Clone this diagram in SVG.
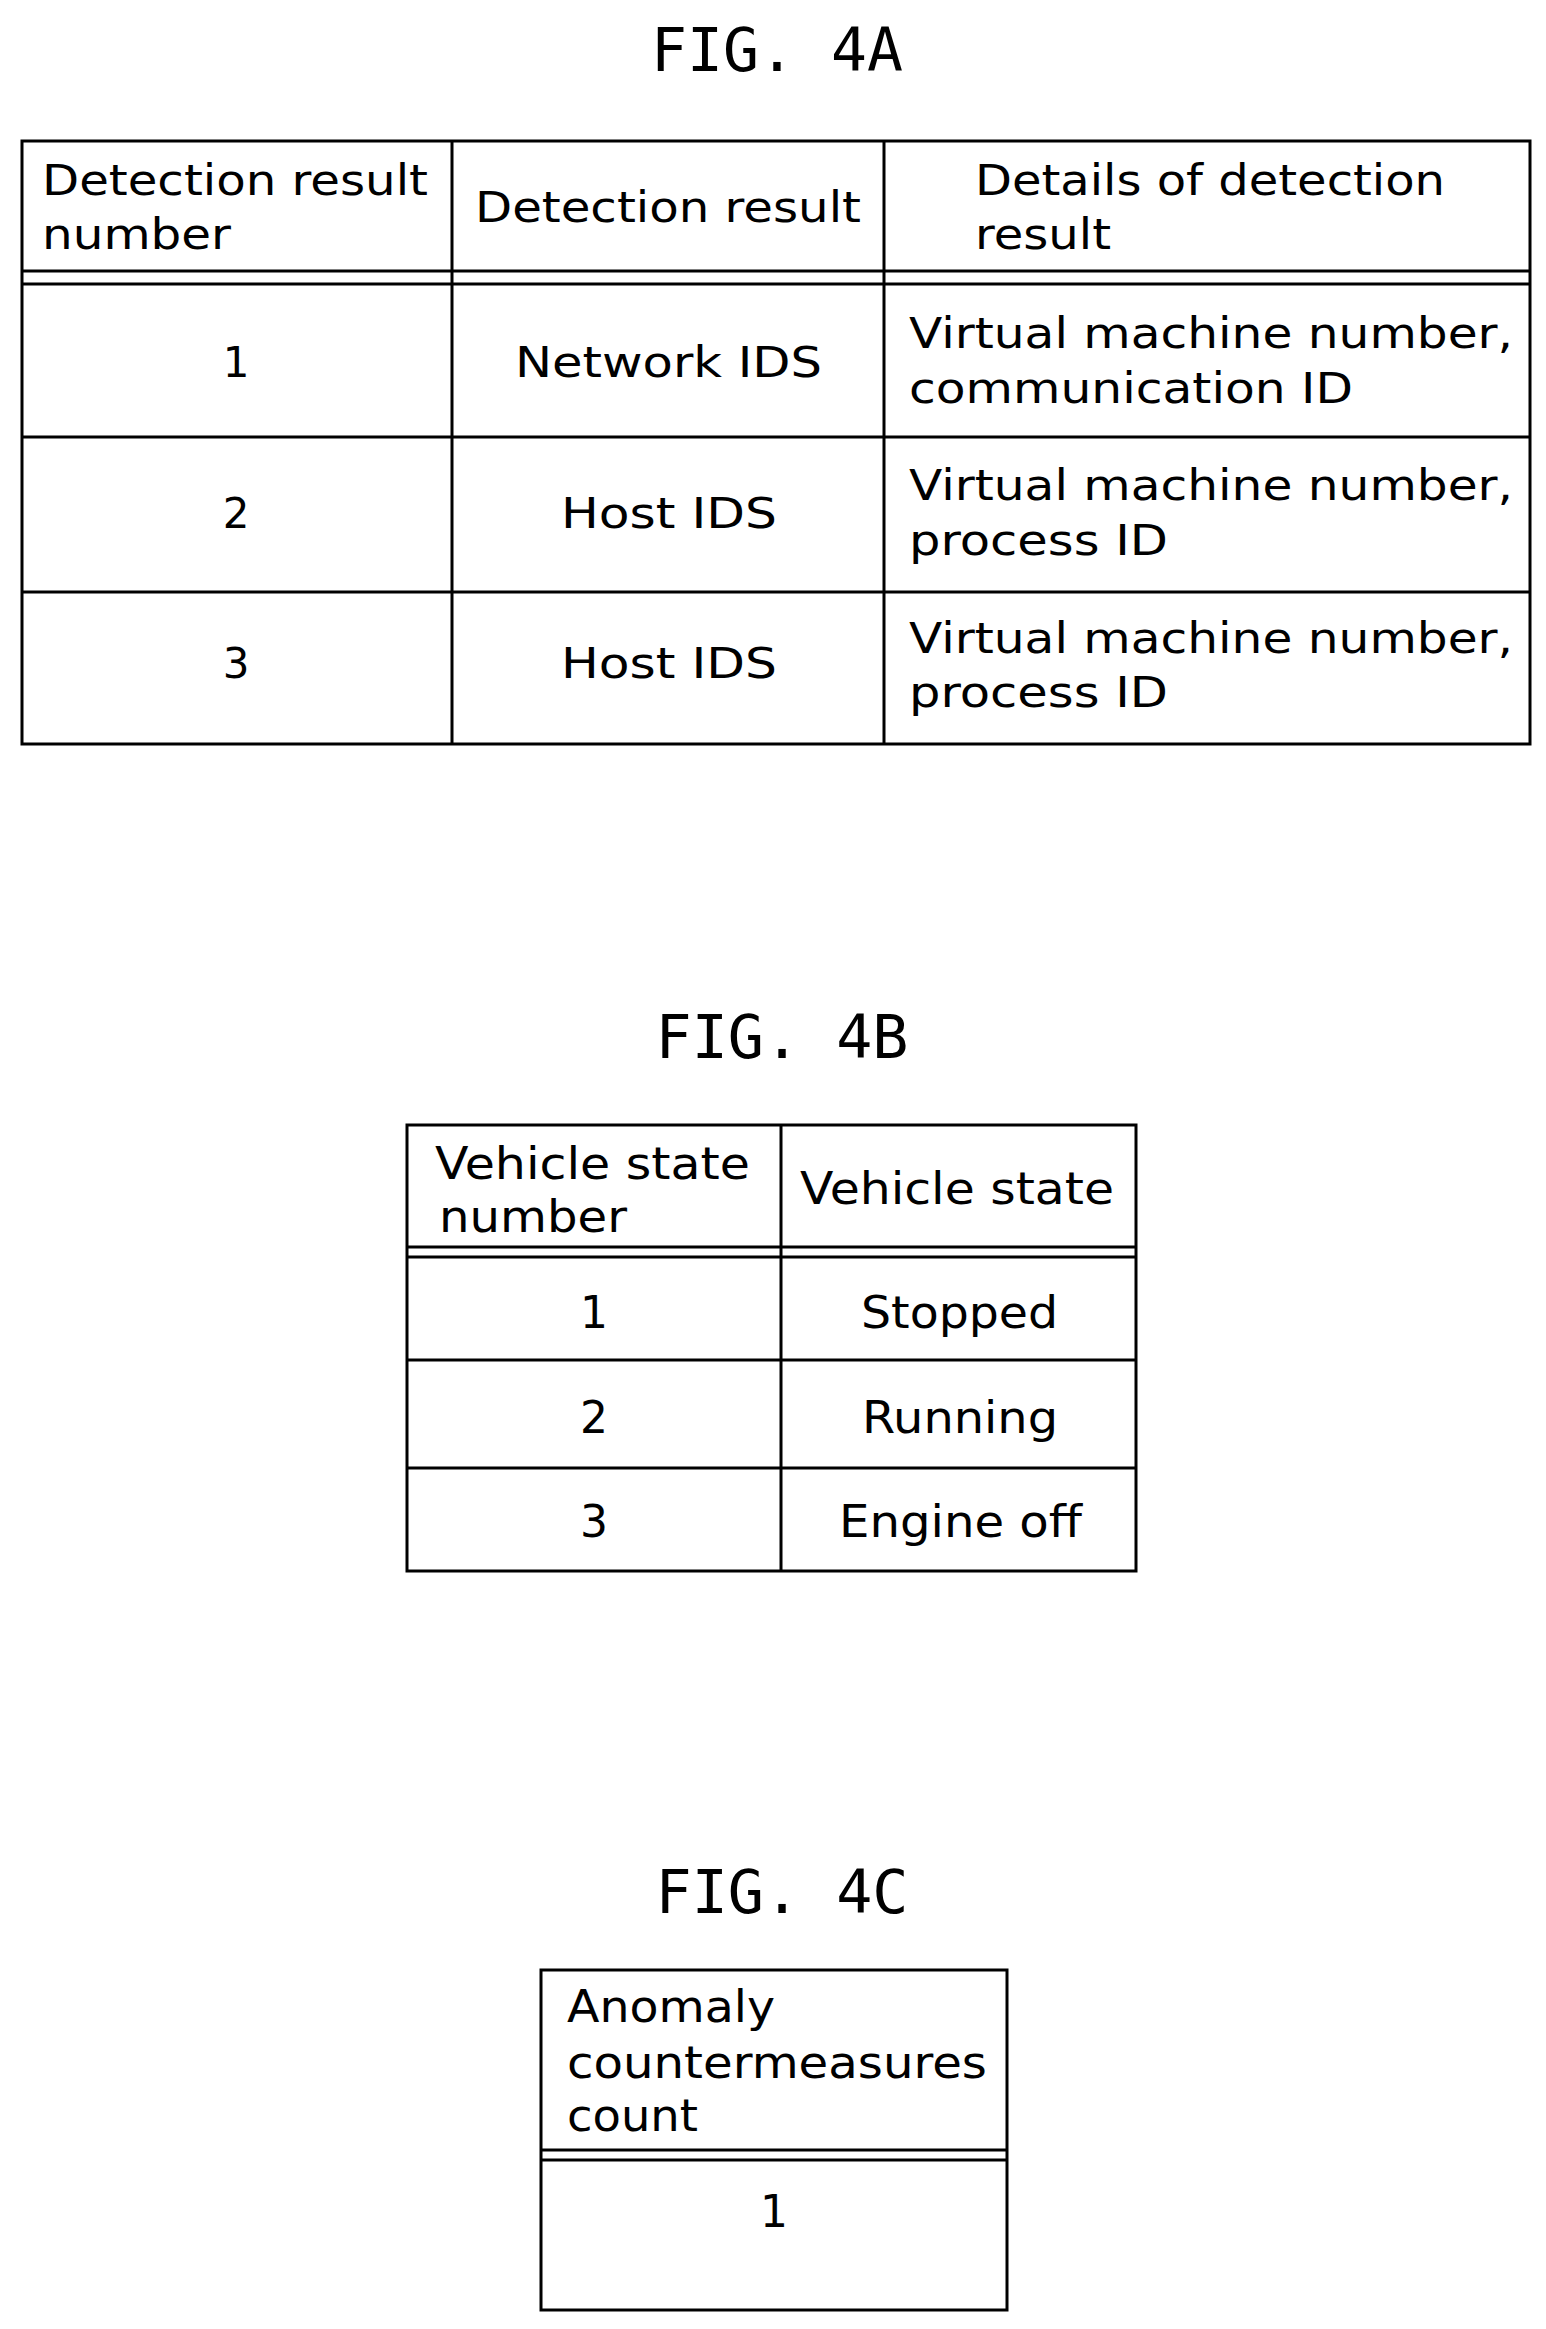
<svg xmlns="http://www.w3.org/2000/svg" width="1546" height="2329" viewBox="0 0 1546 2329">
<style>
.b{fill:none;stroke:#000;stroke-width:3}
.l{stroke:#000;stroke-width:3}
.t{font-family:"DejaVu Sans","Liberation Sans",sans-serif;font-size:42px;fill:#000}
.u{font-family:"DejaVu Sans","Liberation Sans",sans-serif;font-size:44px;fill:#000}
.h{font-family:"DejaVu Sans Mono","Liberation Mono",monospace;font-size:60px;fill:#000;text-anchor:middle}
.m{text-anchor:middle}
</style>
<rect width="1546" height="2329" fill="#fff"/>
<g id="fig4a">
<text class="h" x="777" y="71" textLength="252" lengthAdjust="spacingAndGlyphs">FIG. 4A</text>
<rect class="b" x="22" y="141" width="1508" height="603"/>
<line class="l" x1="452" y1="141" x2="452" y2="744"/>
<line class="l" x1="884" y1="141" x2="884" y2="744"/>
<line class="l" x1="22" y1="271" x2="1530" y2="271"/>
<line class="l" x1="22" y1="284" x2="1530" y2="284"/>
<line class="l" x1="22" y1="437" x2="1530" y2="437"/>
<line class="l" x1="22" y1="592" x2="1530" y2="592"/>
<text class="t" x="42" y="195" textLength="386" lengthAdjust="spacingAndGlyphs">Detection result</text>
<text class="t" x="42" y="249" textLength="189" lengthAdjust="spacingAndGlyphs">number</text>
<text class="t" x="475" y="222" textLength="386" lengthAdjust="spacingAndGlyphs">Detection result</text>
<text class="t" x="975" y="195" textLength="470" lengthAdjust="spacingAndGlyphs">Details of detection</text>
<text class="t" x="975" y="249" textLength="136" lengthAdjust="spacingAndGlyphs">result</text>
<text class="t m" x="236" y="377">1</text>
<text class="t" x="515" y="377" textLength="307" lengthAdjust="spacingAndGlyphs">Network IDS</text>
<text class="t" x="909" y="348" textLength="604" lengthAdjust="spacingAndGlyphs">Virtual machine number,</text>
<text class="t" x="909" y="403" textLength="444" lengthAdjust="spacingAndGlyphs">communication ID</text>
<text class="t m" x="236" y="528">2</text>
<text class="t" x="561" y="528" textLength="216" lengthAdjust="spacingAndGlyphs">Host IDS</text>
<text class="t" x="909" y="500" textLength="604" lengthAdjust="spacingAndGlyphs">Virtual machine number,</text>
<text class="t" x="909" y="555" textLength="259" lengthAdjust="spacingAndGlyphs">process ID</text>
<text class="t m" x="236" y="678">3</text>
<text class="t" x="561" y="678" textLength="216" lengthAdjust="spacingAndGlyphs">Host IDS</text>
<text class="t" x="909" y="653" textLength="604" lengthAdjust="spacingAndGlyphs">Virtual machine number,</text>
<text class="t" x="909" y="707" textLength="259" lengthAdjust="spacingAndGlyphs">process ID</text>
</g>
<g id="fig4b">
<text class="h" x="782" y="1058" textLength="253" lengthAdjust="spacingAndGlyphs">FIG. 4B</text>
<rect class="b" x="407" y="1125" width="729" height="446"/>
<line class="l" x1="781" y1="1125" x2="781" y2="1571"/>
<line class="l" x1="407" y1="1247" x2="1136" y2="1247"/>
<line class="l" x1="407" y1="1257" x2="1136" y2="1257"/>
<line class="l" x1="407" y1="1360" x2="1136" y2="1360"/>
<line class="l" x1="407" y1="1468" x2="1136" y2="1468"/>
<text class="u" x="435" y="1179" textLength="315" lengthAdjust="spacingAndGlyphs">Vehicle state</text>
<text class="u" x="439" y="1232" textLength="188" lengthAdjust="spacingAndGlyphs">number</text>
<text class="u" x="800" y="1204" textLength="314" lengthAdjust="spacingAndGlyphs">Vehicle state</text>
<text class="u m" x="594" y="1328">1</text>
<text class="u" x="861" y="1328" textLength="197" lengthAdjust="spacingAndGlyphs">Stopped</text>
<text class="u m" x="594" y="1433">2</text>
<text class="u" x="862" y="1433" textLength="196" lengthAdjust="spacingAndGlyphs">Running</text>
<text class="u m" x="594" y="1537">3</text>
<text class="u" x="839" y="1537" textLength="243" lengthAdjust="spacingAndGlyphs">Engine off</text>
</g>
<g id="fig4c">
<text class="h" x="782" y="1913" textLength="253" lengthAdjust="spacingAndGlyphs">FIG. 4C</text>
<rect class="b" x="541" y="1970" width="466" height="340"/>
<line class="l" x1="541" y1="2150" x2="1007" y2="2150"/>
<line class="l" x1="541" y1="2160" x2="1007" y2="2160"/>
<text class="u" x="567" y="2022" textLength="208" lengthAdjust="spacingAndGlyphs">Anomaly</text>
<text class="u" x="567" y="2078" textLength="420" lengthAdjust="spacingAndGlyphs">countermeasures</text>
<text class="u" x="567" y="2131" textLength="131" lengthAdjust="spacingAndGlyphs">count</text>
<text class="u m" x="774" y="2227">1</text>
</g>
</svg>
